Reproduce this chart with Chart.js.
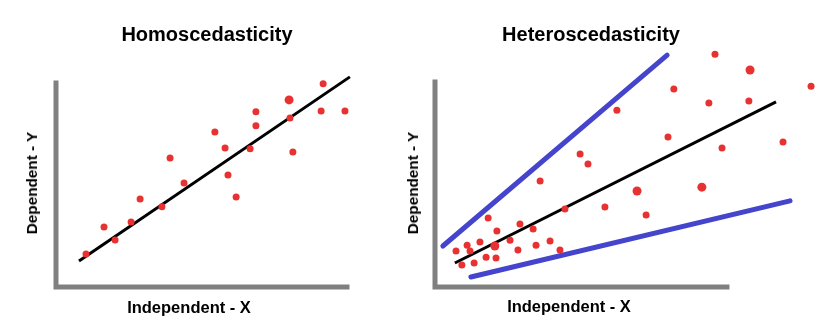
<!DOCTYPE html>
<html lang="en">
<head>
    <meta charset="UTF-8">
    <title>Homoscedasticity vs Heteroscedasticity</title>
    <style>
        html, body { margin: 0; padding: 0; background: #fff; }
        body { width: 831px; height: 334px; position: relative; overflow: hidden; font-family: "Liberation Sans", Arial, sans-serif; }
        .panel { position: absolute; top: 0; height: 334px; }
        .title { position: absolute; font-weight: bold; font-size: 20px; color: #000; white-space: nowrap; transform: translateX(-50%); }
        .xlab { position: absolute; font-weight: bold; font-size: 16.5px; color: #000; white-space: nowrap; transform: translateX(-50%); }
        .ylab { position: absolute; font-weight: bold; font-size: 15.3px; color: #000; white-space: nowrap; transform: translate(-50%, -50%) rotate(-90deg); }
    </style>
</head>
<body>
    <div class="panel" style="left:0;width:415px"><canvas id="homo" width="415" height="334"></canvas></div>
    <div class="panel" style="left:415px;width:416px"><canvas id="hetero" width="416" height="334"></canvas></div>

    <div class="title" style="left:207px;top:23px">Homoscedasticity</div>
    <div class="title" style="left:591px;top:23px">Heteroscedasticity</div>
    <div class="xlab" style="left:189px;top:298px">Independent - X</div>
    <div class="xlab" style="left:569px;top:297px">Independent - X</div>
    <div class="ylab" style="left:32px;top:183px">Dependent - Y</div>
    <div class="ylab" style="left:413px;top:183px">Dependent - Y</div>

    <script src="https://cdn.jsdelivr.net/npm/chart.js"></script>
    <script>
        // left panel: points (axis spans x 0..10, y 0..7)
        const homoX = [1.03, 1.65, 2.03, 2.58, 2.89, 3.64, 3.92, 4.40, 5.46, 5.81, 5.91, 6.19, 6.67, 6.87, 6.87, 8.01, 8.04, 8.14, 9.11, 9.18, 9.93];
        const homoY = [1.13, 2.06, 1.61, 2.23, 3.02, 2.75, 4.43, 3.57, 5.32, 4.77, 3.84, 3.09, 4.74, 6.01, 5.53, 6.42, 5.80, 4.63, 6.04, 6.97, 6.04];
        const homoSize = [3.5, 3.5, 3.5, 3.5, 3.5, 3.5, 3.5, 3.5, 3.5, 3.5, 3.5, 3.5, 3.5, 3.5, 3.5, 4.5, 3.5, 3.5, 3.5, 3.5, 3.5];
        const homoFitX = [0.79, 10.10];
        const homoFitY = [0.89, 7.21];

        // right panel (points go past the drawn axes)
        const hetX = [9.59, 10.79, 12.88, 8.18, 9.38, 10.75, 6.23, 7.98, 9.83, 11.92, 4.97, 5.24, 3.60, 6.92, 9.14, 5.82, 7.23, 4.45,
                      1.82, 2.12, 2.91, 3.36, 2.57, 1.54, 1.10, 2.05, 0.72, 1.20, 2.84, 3.46, 3.94, 4.28, 1.75, 2.09, 1.34, 0.92];
        const hetY = [7.95, 7.41, 6.86, 6.76, 6.28, 6.35, 6.04, 5.12, 4.75, 4.95, 4.54, 4.20, 3.62, 3.28, 3.41, 2.73, 2.46, 2.66,
                      2.36, 1.91, 2.15, 1.98, 1.60, 1.54, 1.43, 1.40, 1.23, 1.23, 1.26, 1.43, 1.57, 1.26, 1.02, 0.99, 0.82, 0.75];
        const hetSize = [3.5, 4.5, 3.5, 3.5, 3.5, 3.5, 3.5, 3.5, 3.5, 3.5, 3.5, 3.5, 3.5, 4.5, 4.5, 3.5, 3.5, 3.5,
                         3.5, 3.5, 3.5, 3.5, 3.5, 3.5, 3.5, 4.5, 3.5, 3.5, 3.5, 3.5, 3.5, 3.5, 3.5, 3.5, 3.5, 3.5];
        const hetFitX = [0.68, 11.68];
        const hetFitY = [0.82, 6.32];
        const hetUpperX = [0.27, 7.95];
        const hetUpperY = [1.40, 7.92];
        const hetLowerX = [1.23, 12.16];
        const hetLowerY = [0.34, 2.94];

        // L-shaped axis (top of y axis -> origin -> end of x axis)
        const axisX = [0, 0, 10];
        const axisY = [7, 0, 0];

        const pts = (xs, ys) => xs.map((x, i) => ({ x: x, y: ys[i] }));

        function lineSet(xs, ys, color, width, cap) {
            return {
                type: 'line',
                data: pts(xs, ys),
                borderColor: color,
                borderWidth: width,
                borderCapStyle: cap || 'butt',
                pointRadius: 0,
                fill: false,
                clip: false
            };
        }

        function makeChart(id, padding, xMax, yMax, datasets) {
            new Chart(document.getElementById(id), {
                type: 'scatter',
                data: { datasets: datasets },
                options: {
                    responsive: false,
                    animation: false,
                    layout: { padding: padding },
                    plugins: { legend: { display: false }, tooltip: { enabled: false } },
                    scales: {
                        x: { type: 'linear', min: 0, max: xMax, display: false },
                        y: { type: 'linear', min: 0, max: yMax, display: false }
                    }
                }
            });
        }

        const red = '#e83232';

        makeChart('homo', { left: 56, right: 68, top: 83, bottom: 47 }, 10, 7, [
            lineSet(axisX, axisY, '#808080', 5, 'square'),
            { data: pts(homoX, homoY), backgroundColor: red, borderWidth: 0, pointRadius: homoSize, clip: false },
            lineSet(homoFitX, homoFitY, '#000000', 3)
        ]);

        makeChart('hetero', { left: 20, right: 10.6, top: 46.9, bottom: 47 }, 13.2, 8.2, [
            lineSet(axisX, axisY, '#808080', 5, 'square'),
            { data: pts(hetX, hetY), backgroundColor: red, borderWidth: 0, pointRadius: hetSize, clip: false },
            lineSet(hetFitX, hetFitY, '#000000', 3),
            lineSet(hetUpperX, hetUpperY, '#4444cc', 5, 'round'),
            lineSet(hetLowerX, hetLowerY, '#4444cc', 5, 'round')
        ]);
    </script>
</body>
</html>
